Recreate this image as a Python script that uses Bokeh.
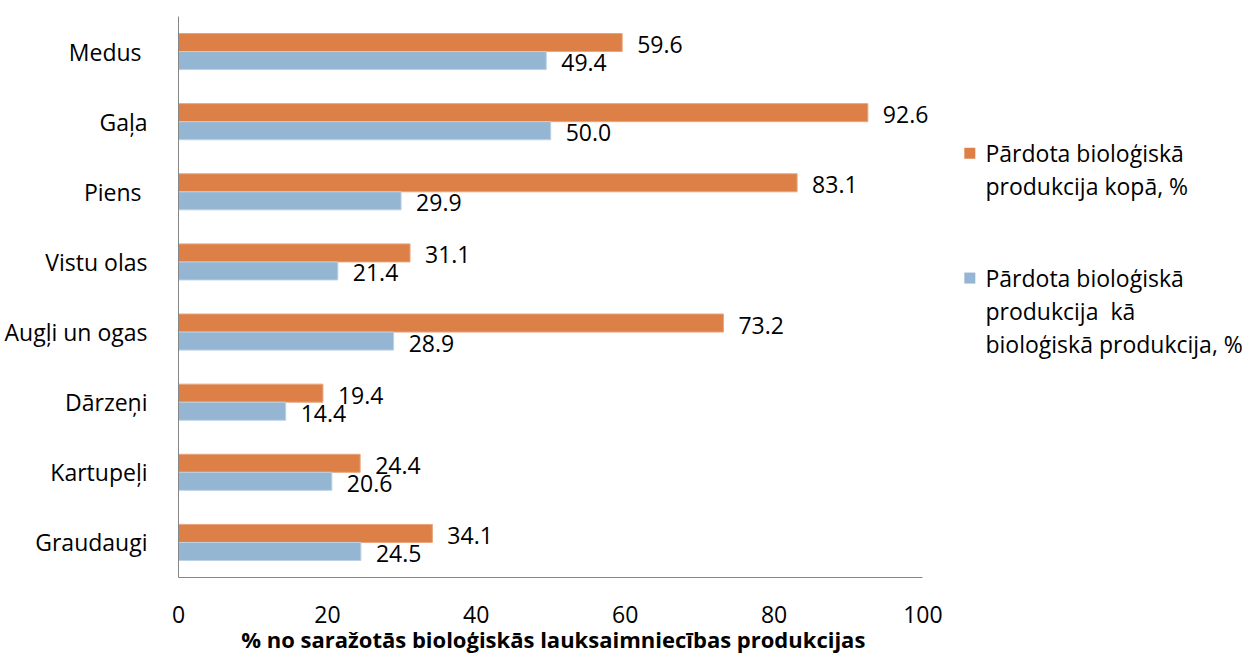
from bokeh.plotting import figure
from bokeh.models import Range1d, FixedTicker, ColumnDataSource
from bokeh.embed import file_html
from bokeh.resources import INLINE
from bokeh.core.properties import value

# ---- data ----
categories = ["Medus", "Gaļa", "Piens", "Vistu olas", "Augļi un ogas", "Dārzeņi", "Kartupeļi", "Graudaugi"]
total_sold = [59.6, 92.6, 83.1, 31.1, 73.2, 19.4, 24.4, 34.1]
sold_as_organic = [49.4, 50.0, 29.9, 21.4, 28.9, 14.4, 20.6, 24.5]
series_lines = [
    ["Pārdota bioloģiskā", "produkcija kopā, %"],
    ["Pārdota bioloģiskā", "produkcija\u00a0\u00a0kā", "bioloģiskā produkcija, %"],
]
x_ticks = [0, 20, 40, 60, 80, 100]
x_title = "% no saražotās bioloģiskās lauksaimniecības produkcijas"

# ---- style ----
ORANGE = "#DD8047"
BLUE = "#94B6D2"
AXIS = "#868686"
FONT = "Open Sans"
FS = "23px"

n = len(categories)
ypos = [n - 0.5 - i for i in range(n)]
off = 0.1286
bh = 0.2571

p = figure(width=1247, height=659, output_backend="svg", toolbar_location=None,
           x_range=Range1d(0, 143.6), y_range=Range1d(0, 8),
           min_border_left=178, min_border_right=0, min_border_top=16, min_border_bottom=82)
p.outline_line_color = None
p.xgrid.grid_line_color = None
p.ygrid.grid_line_color = None
p.background_fill_color = "white"
p.border_fill_color = "white"

src_o = ColumnDataSource(dict(y=[y + off for y in ypos], v=total_sold,
                              t=[f"{v:.1f}" for v in total_sold]))
src_b = ColumnDataSource(dict(y=[y - off for y in ypos], v=sold_as_organic,
                              t=[f"{v:.1f}" for v in sold_as_organic]))

p.hbar(y="y", left=0, right="v", height=bh, source=src_o, fill_color=ORANGE,
       line_color="#E8A57C", line_width=1)
p.hbar(y="y", left=0, right="v", height=bh, source=src_b, fill_color=BLUE,
       line_color="#BCD2E4", line_width=1)

for src in (src_o, src_b):
    p.text(x="v", y="y", text="t", source=src, x_offset=15, y_offset=2,
           text_baseline="middle", text_align="left", text_color="black",
           text_font=value(FONT), text_font_size=FS)

# ---- axes ----
xa = p.xaxis[0]
xa.ticker = FixedTicker(ticks=x_ticks)
xa.bounds = (0, 100)
xa.axis_line_color = AXIS
xa.major_tick_line_color = None
xa.minor_tick_line_color = None
xa.major_label_text_font = FONT
xa.major_label_text_font_size = FS
xa.major_label_text_color = "black"
xa.major_label_standoff = 22
# trailing blank padding shifts the centred title under the 0-100 value axis
xa.axis_label = x_title + "\u2003" * 14 + "\u00a0\u00a0"
xa.axis_label_text_font = FONT
xa.axis_label_text_font_size = "22px"
xa.axis_label_text_font_style = "bold"
xa.axis_label_text_color = "black"
xa.axis_label_standoff = -2

ya = p.yaxis[0]
ya.ticker = FixedTicker(ticks=ypos)
overrides = {}
for y, c in zip(ypos, categories):
    overrides[y] = c + ("\u00a0" if c in ("Medus", "Piens") else "")
ya.major_label_overrides = overrides
ya.axis_line_color = AXIS
ya.major_tick_line_color = None
ya.minor_tick_line_color = None
ya.major_label_text_font = FONT
ya.major_label_text_font_size = FS
ya.major_label_text_color = "black"
ya.major_label_standoff = 25

# ---- legend (manual) ----
leg_colors = [ORANGE, BLUE]
leg_y0 = [6.05, 4.27]
line_gap = 33 / 70.1
for col, y0, lines in zip(leg_colors, leg_y0, series_lines):
    p.scatter(x=[106.3], y=[y0], marker="square", size=11, fill_color=col, line_color=None)
    p.text(x=[108.4] * len(lines), y=[y0 - k * line_gap for k in range(len(lines))], text=lines,
           text_baseline="middle", text_align="left", text_color="black",
           text_font=value(FONT), text_font_size=FS)

open("out.html", "w").write(file_html(p, INLINE))
